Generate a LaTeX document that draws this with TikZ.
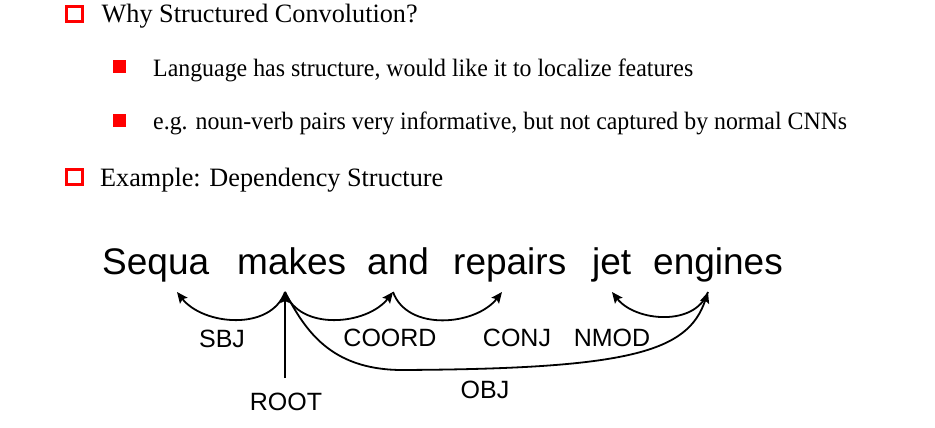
\documentclass[tikz,border=0pt]{standalone}
\usepackage{fontspec}
\setmainfont{Liberation Serif}
\newfontfamily\helv{Liberation Sans}
\usetikzlibrary{arrows.meta}
\definecolor{bulletred}{RGB}{255,0,0}
\begin{document}
\begin{tikzpicture}[x=1pt,y=-1pt,
  lvlone/.style={anchor=base west,inner sep=0pt,font=\fontsize{26.5}{30}\selectfont},
  lvltwo/.style={anchor=base west,inner sep=0pt,font=\fontsize{25}{28}\selectfont},
  word/.style={anchor=base west,inner sep=0pt,font=\helv\fontsize{37}{42}\selectfont},
  deplabel/.style={anchor=base,inner sep=0pt,font=\helv\fontsize{25}{30}\selectfont},
  hollowbullet/.style={draw=bulletred,line width=3.2pt},
  fullbullet/.style={fill=bulletred},
  dep/.style={line width=1.8pt,-{Stealth[length=11pt,width=9.5pt,inset=2pt]}}]
\useasboundingbox (0,0) rectangle (935,428);
% bullets
\draw[hollowbullet] (66.6,6.6) rectangle (82.4,21.4);
\fill[fullbullet] (113,60) rectangle (126,73);
\fill[fullbullet] (113,114) rectangle (126,127);
\draw[hollowbullet] (66.6,169.6) rectangle (82.4,184.4);
% texts
\node[lvlone] (t1) at (101.5,23) {\resizebox{316pt}{\height}{Why Structured Convolution?}};
\node[lvltwo] (t2) at (153,76) {\resizebox{540pt}{\height}{Language has structure, would like it to localize features}};
\node[lvltwo] (t3) at (153,129) {\resizebox{694pt}{\height}{e.g. noun-verb pairs very informative, but not captured by normal CNNs}};
\node[lvlone] (t4) at (100,186) {\resizebox{343pt}{\height}{Example: Dependency Structure}};
% sentence
\node[word] (w1) at (102,274) {Sequa};
\node[word] (w2) at (237,274) {makes};
\node[word] (w3) at (367,274) {and};
\node[word] (w4) at (453,274) {repairs};
\node[word] (w5) at (592,274) {jet};
\node[word] (w6) at (653,274) {engines};
% arrow points
\coordinate (p1) at (177,292);
\coordinate (p2) at (285,292);
\coordinate (p3) at (393,292);
\coordinate (p4) at (502,292);
\coordinate (p5) at (612,292);
\coordinate (p6) at (708,292);
\coordinate (rootfoot) at (285,378);
\coordinate (objmid) at (400,370);
% arcs
\draw[dep] (p2) to[out=-110,in=-52] (p1);
\draw[dep] (p2) to[out=-70,in=-128] (p3);
\draw[dep] (p3) to[out=-70,in=-128] (p4);
\draw[dep] (p6) to[out=-110,in=-52] (p5);
\draw[dep] (rootfoot) -- (p2);
\draw[dep] (p2) .. controls (305,330) and (330,369) .. (objmid) .. controls (630,369) and (688,352) .. (p6);
% labels
\node[deplabel] (l1) at (222,347) {SBJ};
\node[deplabel] (l2) at (390,346) {COORD};
\node[deplabel] (l3) at (517,346) {CONJ};
\node[deplabel] (l4) at (612,346) {NMOD};
\node[deplabel] (l5) at (286,410) {ROOT};
\node[deplabel] (l6) at (485,398) {OBJ};
\end{tikzpicture}
\end{document}
